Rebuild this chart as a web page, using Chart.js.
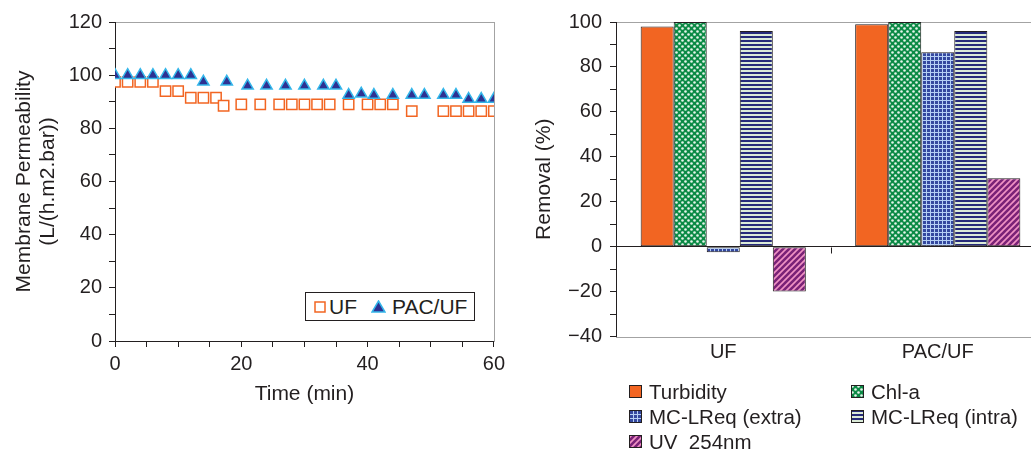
<!DOCTYPE html>
<html>
<head>
<meta charset="utf-8">
<script src="https://cdn.jsdelivr.net/npm/chart.js@4.4.1/dist/chart.umd.min.js"></script>
<style>
  html, body { margin: 0; padding: 0; width: 1031px; height: 449px; overflow: hidden; background: #fff; }
  #left { position: absolute; left: 0; top: 0; width: 510px; height: 449px; }
  #right { position: absolute; left: 510px; top: 0; width: 552px; height: 449px; }
  .leg { position: absolute; font: 21px "Liberation Sans", Arial, sans-serif; color: #231f20; }
  #legL { left: 305px; top: 292px; width: 170px; height: 29px; border: 1px solid #231f20; background: #fff;
          display: flex; align-items: center; padding-left: 8px; box-sizing: border-box; }
  #legL canvas { margin-right: 3px; }
  #legL span { margin-right: 12px; }
  #legR { left: 629px; top: 379px; display: grid; grid-template-columns: 222px auto; grid-auto-rows: 25px; font-size: 20.5px; }
  #legR div { display: flex; align-items: center; }
  #legR canvas { margin-right: 7px; }
</style>
</head>
<body>
<div id="left"><canvas id="permChart"></canvas></div>
<div id="right"><canvas id="remChart"></canvas></div>
<div class="leg" id="legL"></div>
<div class="leg" id="legR"></div>
<script>
// ---- permeability (left) ----
var timeUF = [0, 2, 4, 6, 8, 10, 12, 14, 16, 17.2, 20, 23, 26, 28, 30, 32, 34, 37, 40, 42, 44, 47, 52, 54, 56, 58, 60];
var permUF = [97.5, 97.5, 97.5, 97.5, 94, 94, 91.5, 91.5, 91.5, 88.5, 89, 89, 89, 89, 89, 89, 89, 89, 89, 89, 89, 86.5, 86.5, 86.5, 86.5, 86.5, 86.5];
var timePAC = [0, 2, 4, 6, 8, 10, 12, 14, 17.7, 21, 24, 27, 30, 33, 35, 37, 39, 41, 44, 47, 49, 52, 54, 56, 58, 60];
var permPAC = [100, 100, 100, 100, 100, 100, 100, 97.5, 97.5, 96, 96, 96, 96, 96, 96, 92.5, 93, 92.5, 92.5, 92.5, 92.5, 92.5, 92.5, 91, 91, 91];

// ---- removal (right) ----
var groups = ["UF", "PAC/UF"];
var turbidity = [98, 99];
var chla = [100, 100];
var mcExtra = [-2.5, 86.5];
var mcIntra = [96, 96];
var uv254 = [-20, 30.5];

var ink = "#231f20";
var fontFam = '"Liberation Sans", Arial, sans-serif';
Chart.defaults.font.family = fontFam;
Chart.defaults.color = ink;

function toXY(xs, ys) {
  return xs.map(function (x, i) { return { x: x, y: ys[i] }; });
}

function makePattern(size, draw) {
  var c = document.createElement("canvas");
  c.width = size; c.height = size;
  draw(c.getContext("2d"), size);
  return c.getContext("2d").createPattern(c, "repeat");
}

var patChla = makePattern(6, function (g) {
  g.fillStyle = "#0b8a45"; g.fillRect(0, 0, 6, 6);
  g.fillStyle = "#e6f4ea";
  g.beginPath(); g.arc(1.5, 1.5, 1.3, 0, Math.PI * 2); g.fill();
  g.beginPath(); g.arc(4.5, 4.5, 1.3, 0, Math.PI * 2); g.fill();
});
var patExtra = makePattern(4, function (g) {
  g.fillStyle = "#34489f"; g.fillRect(0, 0, 4, 4);
  g.fillStyle = "#b5cff5"; g.fillRect(0, 0, 4, 1); g.fillRect(0, 0, 1, 4);
});
var patIntra = makePattern(4, function (g) {
  g.fillStyle = "#dbebd8"; g.fillRect(0, 0, 4, 4);
  g.fillStyle = "#262a7a"; g.fillRect(0, 0, 4, 2);
});
var patUV = makePattern(6, function (g) {
  g.fillStyle = "#f092c4"; g.fillRect(0, 0, 6, 6);
  g.strokeStyle = "#7a2277"; g.lineWidth = 2.6;
  [[-3, 3, 3, -3], [0, 6, 6, 0], [3, 9, 9, 3]].forEach(function (l) {
    g.beginPath(); g.moveTo(l[0], l[1]); g.lineTo(l[2], l[3]); g.stroke();
  });
});

// gray box round the plot area, axes are drawn over it
var framePlugin = {
  id: "frame",
  beforeDraw: function (chart) {
    var a = chart.chartArea, c = chart.ctx;
    c.save();
    c.strokeStyle = "#a3a3a3";
    c.lineWidth = 1;
    c.strokeRect(Math.round(a.left) + 0.5, Math.round(a.top) + 0.5, Math.round(a.right - a.left), Math.round(a.bottom - a.top));
    c.restore();
  }
};

// small category ticks under the zero line
var zeroTicks = {
  id: "zeroTicks",
  afterDatasetsDraw: function (chart) {
    var xs = chart.scales.x, ys = chart.scales.y, c = chart.ctx;
    var y0 = Math.round(ys.getPixelForValue(0)) + 0.5;
    var w = (xs.right - xs.left) / groups.length;
    c.save();
    c.strokeStyle = ink; c.lineWidth = 1;
    for (var i = 0; i <= groups.length; i++) {
      var px = Math.round(xs.left + i * w) + 0.5;
      c.beginPath(); c.moveTo(px, y0); c.lineTo(px, y0 + 6); c.stroke();
    }
    c.restore();
  }
};

var permChart = new Chart(document.getElementById("permChart"), {
  type: "scatter",
  plugins: [framePlugin],
  data: {
    datasets: [{
      label: "UF",
      data: toXY(timeUF, permUF),
      pointStyle: "rect",
      pointRadius: 7.3,
      pointBorderWidth: 1.5,
      pointBackgroundColor: "#fff",
      pointBorderColor: "#f26522",
      order: 2
    }, {
      label: "PAC/UF",
      data: toXY(timePAC, permPAC),
      pointStyle: "triangle",
      pointRadius: 6.5,
      pointBorderWidth: 1.5,
      pointBackgroundColor: "#2e3192",
      pointBorderColor: "#34b6ea",
      order: 1
    }]
  },
  options: {
    responsive: true,
    maintainAspectRatio: false,
    animation: false,
    layout: { padding: { top: 22, right: 16, bottom: 0, left: 0 } },
    plugins: { legend: { display: false }, tooltip: { enabled: false } },
    scales: {
      x: {
        type: "linear", min: 0, max: 60,
        afterFit: function (s) { s.height = 108; },
        grid: { drawOnChartArea: false, tickLength: 6, tickColor: ink },
        border: { color: ink },
        ticks: {
          stepSize: 5, autoSkip: false, maxRotation: 0, padding: 5,
          font: { size: 20 },
          callback: function (v) { return v % 20 === 0 ? v : ""; }
        },
        title: { display: true, text: "Time (min)", font: { size: 21 }, padding: { top: 0, bottom: 42 } }
      },
      y: {
        min: 0, max: 120,
        afterFit: function (s) { s.width = 115; },
        grid: { drawOnChartArea: false, tickLength: 6, tickColor: ink },
        border: { color: ink },
        ticks: {
          stepSize: 10, autoSkip: false, padding: 7,
          font: { size: 20 },
          callback: function (v) { return v % 20 === 0 ? v : ""; }
        },
        title: {
          display: true,
          text: ["Membrane Permeability", "(L/(h.m2.bar))"],
          font: { size: 21, lineHeight: 1.15 },
          padding: { top: 12, bottom: 0 }
        }
      }
    }
  }
});

var remChart = new Chart(document.getElementById("remChart"), {
  type: "bar",
  plugins: [framePlugin, zeroTicks],
  data: {
    labels: groups,
    datasets: [
      { label: "Turbidity", data: turbidity, backgroundColor: "#f26522" },
      { label: "Chl-a", data: chla, backgroundColor: patChla },
      { label: "MC-LReq (extra)", data: mcExtra, backgroundColor: patExtra },
      { label: "MC-LReq (intra)", data: mcIntra, backgroundColor: patIntra },
      { label: "UV  254nm", data: uv254, backgroundColor: patUV }
    ]
  },
  options: {
    responsive: true,
    maintainAspectRatio: false,
    animation: false,
    datasets: {
      bar: { borderColor: ink, borderWidth: 1, borderSkipped: false, categoryPercentage: 0.77, barPercentage: 1 }
    },
    layout: { padding: { top: 22, right: 17, bottom: 0, left: 0 } },
    plugins: { legend: { display: false }, tooltip: { enabled: false } },
    scales: {
      x: {
        afterFit: function (s) { s.height = 112.5; },
        grid: { display: false, drawTicks: false },
        border: { display: false },
        ticks: { padding: 4, font: { size: 20 }, maxRotation: 0 }
      },
      y: {
        min: -40, max: 100,
        afterFit: function (s) { s.width = 106; },
        grid: {
          drawOnChartArea: true, tickLength: 6, tickColor: ink,
          color: function (c) { return c.tick && c.tick.value === 0 ? ink : "rgba(0,0,0,0)"; }
        },
        border: { color: ink },
        ticks: {
          stepSize: 10, autoSkip: false, padding: 8,
          font: { size: 20 },
          callback: function (v) { return v % 20 === 0 ? String(v).replace("-", "\u2212") : ""; }
        },
        title: { display: true, text: "Removal (%)", font: { size: 21 }, padding: { top: 22, bottom: 0 } }
      }
    }
  }
});

// ---- html legends ----
function swatch(w, h, paint) {
  var c = document.createElement("canvas");
  c.width = w; c.height = h;
  paint(c.getContext("2d"));
  return c;
}

var legL = document.getElementById("legL");
permChart.data.datasets.forEach(function (ds) {
  var mark;
  if (ds.pointStyle === "rect") {
    mark = swatch(12, 12, function (g) {
      g.strokeStyle = ds.pointBorderColor; g.lineWidth = 1.5; g.strokeRect(1, 1, 10, 10);
    });
  } else {
    mark = swatch(15, 13, function (g) {
      g.beginPath(); g.moveTo(7.5, 1); g.lineTo(14, 12); g.lineTo(1, 12); g.closePath();
      g.fillStyle = ds.pointBackgroundColor; g.fill();
      g.strokeStyle = ds.pointBorderColor; g.lineWidth = 1.5; g.stroke();
    });
    mark.style.marginLeft = "2px";
    mark.style.marginRight = "6px";
  }
  legL.appendChild(mark);
  var t = document.createElement("span");
  t.textContent = ds.label;
  legL.appendChild(t);
});

var legR = document.getElementById("legR");
remChart.data.datasets.forEach(function (ds) {
  var item = document.createElement("div");
  item.appendChild(swatch(13, 13, function (g) {
    g.fillStyle = ds.backgroundColor; g.fillRect(0, 0, 13, 13);
    g.strokeStyle = ink; g.lineWidth = 1; g.strokeRect(0.5, 0.5, 12, 12);
  }));
  var t = document.createElement("span");
  t.textContent = ds.label;
  t.style.whiteSpace = "pre";
  item.appendChild(t);
  legR.appendChild(item);
});
</script>
</body>
</html>
